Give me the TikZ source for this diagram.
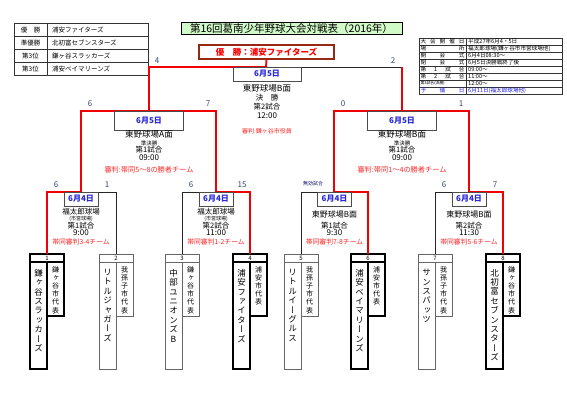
\documentclass[tikz,border=0pt]{standalone}
\usepackage{fontspec}
\setmainfont{Noto Sans CJK JP}
\newfontfamily\jpv[RawFeature=+vert]{Noto Sans CJK JP}
\definecolor{wred}{RGB}{240,0,0}
\definecolor{refred}{RGB}{250,40,40}
\definecolor{dateblue}{RGB}{40,40,220}
\definecolor{scorecol}{RGB}{50,70,120}
\definecolor{champbd}{RGB}{150,40,20}
\definecolor{titlegreen}{RGB}{210,250,200}
\definecolor{navytxt}{RGB}{20,20,110}
\definecolor{tblblue}{RGB}{30,30,230}
\newcommand\fs[1]{\fontsize{#1}{#1}\selectfont}
\begin{document}
\begin{tikzpicture}[x=1pt,y=-1pt,
  redline/.style={draw=wred,line width=1.8pt},
  blkline/.style={draw=black!85,line width=0.9pt},
  datebox/.style={draw=black!70,fill=white,line width=0.8pt,text=dateblue,font=\bfseries\fs{8},inner sep=0pt,outer sep=0pt,minimum width=34pt,minimum height=14pt,anchor=north},
  sdatebox/.style={datebox,minimum width=69pt,minimum height=19pt},
  score/.style={text=scorecol,font=\fs{8},inner sep=0pt},
  txt/.style={inner sep=0pt},
  reftxt/.style={inner sep=0pt,text=refred},
  numcell/.style={minimum width=34pt,minimum height=8pt,inner sep=0pt,outer sep=0pt,font=\fs{6},anchor=north},
  strong/.style={draw=black,line width=1.6pt},
  stronger/.style={draw=black,line width=2.1pt},
  weak/.style={draw=black!60,line width=0.7pt},
  maincol/.style={minimum width=17pt,minimum height=107pt,inner sep=0pt,outer sep=0pt,anchor=north east},
  subcol/.style={minimum width=17pt,minimum height=54pt,inner sep=0pt,outer sep=0pt,anchor=north west},
  mainname/.style={inner sep=0pt,anchor=north,align=center,font=\jpv\fontsize{8.5}{9.4}\selectfont},
  subname/.style={inner sep=0pt,anchor=north,align=center,font=\jpv\fontsize{7}{8.2}\selectfont},
  cell/.style={draw=black!80,line width=0.6pt,inner sep=0pt,outer sep=0pt,anchor=north west},
  ltxt/.style={inner sep=0pt,font=\fs{6.5}},
  rtl/.style={inner sep=0pt,font=\fs{5.6}},
  rtr/.style={inner sep=0pt,font=\fs{5.6},anchor=west},
]
\useasboundingbox (0,0) rectangle (567,400);

% ---- top-left result table
\foreach \i in {0,...,3}{
  \node[cell,minimum width=33pt,minimum height=13pt] (wa\i) at (14,{23.5+13*\i}) {};
  \node[cell,minimum width=101pt,minimum height=13pt] (wb\i) at (47,{23.5+13*\i}) {};
}
\node[ltxt] (la0) at (wa0.center) {優　勝};
\node[ltxt] (la1) at (wa1.center) {準優勝};
\node[ltxt] (la2) at (wa2.center) {第3位};
\node[ltxt] (la3) at (wa3.center) {第3位};
\node[ltxt,anchor=west] (lb0) at ([xshift=5pt]wb0.west) {浦安ファイターズ};
\node[ltxt,anchor=west] (lb1) at ([xshift=5pt]wb1.west) {北初富セブンスターズ};
\node[ltxt,anchor=west] (lb2) at ([xshift=5pt]wb2.west) {鎌ヶ谷スラッカーズ};
\node[ltxt,anchor=west] (lb3) at ([xshift=5pt]wb3.west) {浦安ベイマリーンズ};

% ---- title
\node[draw=black,line width=0.8pt,fill=titlegreen,minimum width=221pt,minimum height=12pt,inner sep=0pt,font=\fs{10.5}] (title) at (291.5,28.5) {第16回葛南少年野球大会対戦表（2016年）};

% ---- top-right info table
\foreach \i in {0,...,7}{
  \node[cell,minimum width=47pt,minimum height=7pt] (ra\i) at (419,{38+7*\i}) {};
  \node[cell,minimum width=96pt,minimum height=7pt] (rb\i) at (466,{38+7*\i}) {};
}
\node[rtl] (ta0) at (ra0.center) {\makebox[44pt][s]{大\hfill 会\hfill 開\hfill 催\hfill 日}};
\node[rtl] (ta1) at (ra1.center) {\makebox[44pt][s]{場\hfill 所}};
\node[rtl] (ta2) at (ra2.center) {\makebox[44pt][s]{開\hfill 会\hfill 式}};
\node[rtl] (ta3) at (ra3.center) {\makebox[44pt][s]{閉\hfill 会\hfill 式}};
\node[rtl] (ta4) at (ra4.center) {\makebox[44pt][s]{第\hfill 1\hfill 試\hfill 合}};
\node[rtl] (ta5) at (ra5.center) {\makebox[44pt][s]{第\hfill 2\hfill 試\hfill 合}};
\node[rtl,font=\fs{3.9}] (ta6) at (ra6.center) {\makebox[44pt][s]{第3試合(決勝)}};
\node[rtl,text=tblblue] (ta7) at (ra7.center) {\makebox[44pt][s]{予\hfill 備\hfill 日}};
\node[rtr] (tb0) at ([xshift=2pt]rb0.west) {平成27年6月4・5日};
\node[rtr] (tb1) at ([xshift=2pt]rb1.west) {福太郎球場(鎌ヶ谷市市営球場他)};
\node[rtr] (tb2) at ([xshift=2pt]rb2.west) {6月4日08:30～};
\node[rtr] (tb3) at ([xshift=2pt]rb3.west) {6月5日決勝戦終了後};
\node[rtr] (tb4) at ([xshift=2pt]rb4.west) {09:00～};
\node[rtr] (tb5) at ([xshift=2pt]rb5.west) {11:00～};
\node[rtr] (tb6) at ([xshift=2pt]rb6.west) {12:00～};
\node[rtr,text=tblblue] (tb7) at ([xshift=2pt]rb7.west) {6月11日(福太郎球場他)};

% ---- champion box
\node[draw=champbd,line width=1.2pt,fill=white,minimum width=135pt,minimum height=14pt,inner sep=0pt,outer sep=0pt,text=red,font=\bfseries\fs{8.5}] (champ) at (266.5,52) {優　勝：浦安ファイターズ};

% ---- teams
\node[numcell,strong] (n1) at (47,254) {1};
\node[numcell,weak] (n2) at (116,254) {2};
\node[numcell,weak] (n3) at (182,254) {3};
\node[numcell,stronger] (n4) at (250,254) {4};
\node[numcell,weak] (n5) at (301,254) {5};
\node[numcell,strong] (n6) at (368,254) {6};
\node[numcell,weak] (n7) at (435,254) {7};
\node[numcell,strong] (n8) at (503,254) {8};
\node[maincol,strong] (m1) at (n1.south) {};
\node[subcol,strong] (s1) at (n1.south) {};
\node[maincol,weak] (m2) at (n2.south) {};
\node[subcol,weak] (s2) at (n2.south) {};
\node[maincol,weak] (m3) at (n3.south) {};
\node[subcol,weak] (s3) at (n3.south) {};
\node[maincol,stronger] (m4) at (n4.south) {};
\node[subcol,stronger] (s4) at (n4.south) {};
\node[maincol,weak] (m5) at (n5.south) {};
\node[subcol,weak] (s5) at (n5.south) {};
\node[maincol,strong] (m6) at (n6.south) {};
\node[subcol,strong] (s6) at (n6.south) {};
\node[maincol,weak] (m7) at (n7.south) {};
\node[subcol,weak] (s7) at (n7.south) {};
\node[maincol,strong] (m8) at (n8.south) {};
\node[subcol,strong] (s8) at (n8.south) {};

\node[mainname] (tn1) at (38.5,269) {鎌\\ヶ\\谷\\ス\\ラ\\ッ\\カ\\ー\\ズ};
\node[subname] (ts1) at (55.5,266) {鎌\\ヶ\\谷\\市\\代\\表};
\node[mainname] (tn2) at (107.5,269) {リ\\ト\\ル\\ジ\\ャ\\ガ\\ー\\ズ};
\node[subname] (ts2) at (124.5,266) {我\\孫\\子\\市\\代\\表};
\node[mainname] (tn3) at (173.5,269) {中\\部\\ユ\\ニ\\オ\\ン\\ズ\\B};
\node[subname] (ts3) at (190.5,266) {鎌\\ヶ\\谷\\市\\代\\表};
\node[mainname] (tn4) at (241.5,269) {浦\\安\\フ\\ァ\\イ\\タ\\ー\\ズ};
\node[subname] (ts4) at (258.5,266) {浦\\安\\市\\代\\表};
\node[mainname] (tn5) at (292.5,269) {リ\\ト\\ル\\イ\\ー\\グ\\ル\\ス};
\node[subname] (ts5) at (309.5,266) {我\\孫\\子\\市\\代\\表};
\node[mainname] (tn6) at (359.5,269) {浦\\安\\ベ\\イ\\マ\\リ\\ー\\ン\\ズ};
\node[subname] (ts6) at (376.5,266) {浦\\安\\市\\代\\表};
\node[mainname] (tn7) at (426.5,269) {サ\\ン\\ス\\パ\\ッ\\ツ};
\node[subname] (ts7) at (443.5,266) {我\\孫\\子\\市\\代\\表};
\node[mainname] (tn8) at (494.5,269) {北\\初\\富\\セ\\ブ\\ン\\ス\\タ\\ー\\ズ};
\node[subname] (ts8) at (511.5,266) {鎌\\ヶ\\谷\\市\\代\\表};

% ---- bracket coordinates
\coordinate (q1) at (81,192);
\coordinate (q2) at (216,192);
\coordinate (q3) at (334,192);
\coordinate (q4) at (469,192);
\coordinate (s1a) at (81,111);
\coordinate (s1b) at (216,111);
\coordinate (s1c) at (149,111);
\coordinate (s2a) at (334,111);
\coordinate (s2b) at (469,111);
\coordinate (s2c) at (402,111);
\coordinate (fa) at (149,67);
\coordinate (fb) at (402,67);
\coordinate (fc) at (266,67);

% losers' lines
\draw[blkline] (fc) -- (fb);
\draw[blkline] (q1) -| (n2.north);
\draw[blkline] (q2) -| (n3.north);
\draw[blkline] (q3) -| (n5.north);
\draw[blkline] (q4) -| (n7.north);
% winners' lines
\draw[redline] (n1.north) |- (q1) -- (s1a) -- (s1b) -- (q2) -| (n4.north);
\draw[redline] (n6.north) |- (q3) -- (s2a) -- (s2b) -- (q4) -| (n8.north);
\draw[redline] (s1c) -- (fa) -- (fc) -- (champ.south);
\draw[redline] (s2c) -- (fb);

% ---- date boxes
\node[datebox,minimum width=68pt] (dF) at (267,67) {6月5日};
\node[sdatebox] (dS1) at (149,111) {6月5日};
\node[sdatebox] (dS2) at (402,111) {6月5日};
\node[datebox] (dQ1) at (81,192) {6月4日};
\node[datebox] (dQ2) at (216,192) {6月4日};
\node[datebox] (dQ3) at (334.5,192) {6月4日};
\node[datebox] (dQ4) at (469,192) {6月4日};

% ---- final info
\node[txt,font=\fs{8.5}] (fven) at (267,88) {東野球場B面};
\node[txt,font=\fs{7.5}] (frnd) at (267,98) {決　勝};
\node[txt,font=\fs{7.5}] (fgame) at (267,107) {第2試合};
\node[txt,font=\fs{8}] (ftime) at (267,116) {12:00};
\node[reftxt,font=\fs{6}] (fref) at (267,131) {審判:鎌ヶ谷市役員};

% ---- semifinal info
\node[txt,font=\fs{8.5}] (aven) at (149,134) {東野球場A面};
\node[txt,font=\fs{5.5}] (arnd) at (149,143) {準決勝};
\node[txt,font=\fs{7.5}] (agame) at (149,150) {第1試合};
\node[txt,font=\fs{8}] (atime) at (149,157.5) {09:00};
\node[reftxt,font=\fs{7.2}] (aref) at (149,170) {審判:帯同5～8の勝者チーム};
\node[txt,font=\fs{8.5}] (bven) at (402,134) {東野球場B面};
\node[txt,font=\fs{5.5}] (brnd) at (402,143) {準決勝};
\node[txt,font=\fs{7.5}] (bgame) at (402,150) {第1試合};
\node[txt,font=\fs{8}] (btime) at (402,157.5) {09:00};
\node[reftxt,font=\fs{7.2}] (bref) at (402,170) {審判:帯同1～4の勝者チーム};

% ---- quarterfinal info
\node[txt,font=\fs{7.5}] (q1ven) at (81,212) {福太郎球場};
\node[txt,font=\fs{5}] (q1sub) at (81,219) {(市営球場)};
\node[txt,font=\fs{7.5}] (q1game) at (81,226) {第1試合};
\node[txt,font=\fs{8}] (q1time) at (81,233) {9:00};
\node[reftxt,font=\fs{6.8}] (q1ref) at (81,242) {帯同審判3-4チーム};
\node[txt,font=\fs{7.5}] (q2ven) at (216,212) {福太郎球場};
\node[txt,font=\fs{5}] (q2sub) at (216,219) {(市営球場)};
\node[txt,font=\fs{7.5}] (q2game) at (216,226) {第2試合};
\node[txt,font=\fs{8}] (q2time) at (216,233) {11:00};
\node[reftxt,font=\fs{6.8}] (q2ref) at (216,242) {帯同審判1-2チーム};
\node[txt,font=\fs{8}] (q3ven) at (334.5,214) {東野球場B面};
\node[txt,font=\fs{7.5}] (q3game) at (334.5,226) {第1試合};
\node[txt,font=\fs{8}] (q3time) at (334.5,233) {9:30};
\node[reftxt,font=\fs{6.8}] (q3ref) at (334.5,242) {帯同審判7-8チーム};
\node[txt,font=\fs{8}] (q4ven) at (469,214) {東野球場B面};
\node[txt,font=\fs{7.5}] (q4game) at (469,226) {第2試合};
\node[txt,font=\fs{8}] (q4time) at (469,233) {11:30};
\node[reftxt,font=\fs{6.8}] (q4ref) at (469,242) {帯同審判5-6チーム};

% ---- scores
\node[score] (scF1) at (157,61) {4};
\node[score] (scF2) at (393,61) {2};
\node[score] (scS1) at (90,104) {6};
\node[score] (scS2) at (208,104) {7};
\node[score] (scS3) at (343,104) {0};
\node[score] (scS4) at (461,104) {1};
\node[score] (scQ1) at (56,185) {6};
\node[score] (scQ2) at (107,185) {1};
\node[score] (scQ3) at (191,185) {6};
\node[score] (scQ4) at (242,185) {15};
\node[score] (scQ7) at (444,185) {6};
\node[score] (scQ8) at (495,185) {7};
\node[txt,text=navytxt,font=\fs{5}] (void) at (313,184) {無効試合};
\end{tikzpicture}
\end{document}
